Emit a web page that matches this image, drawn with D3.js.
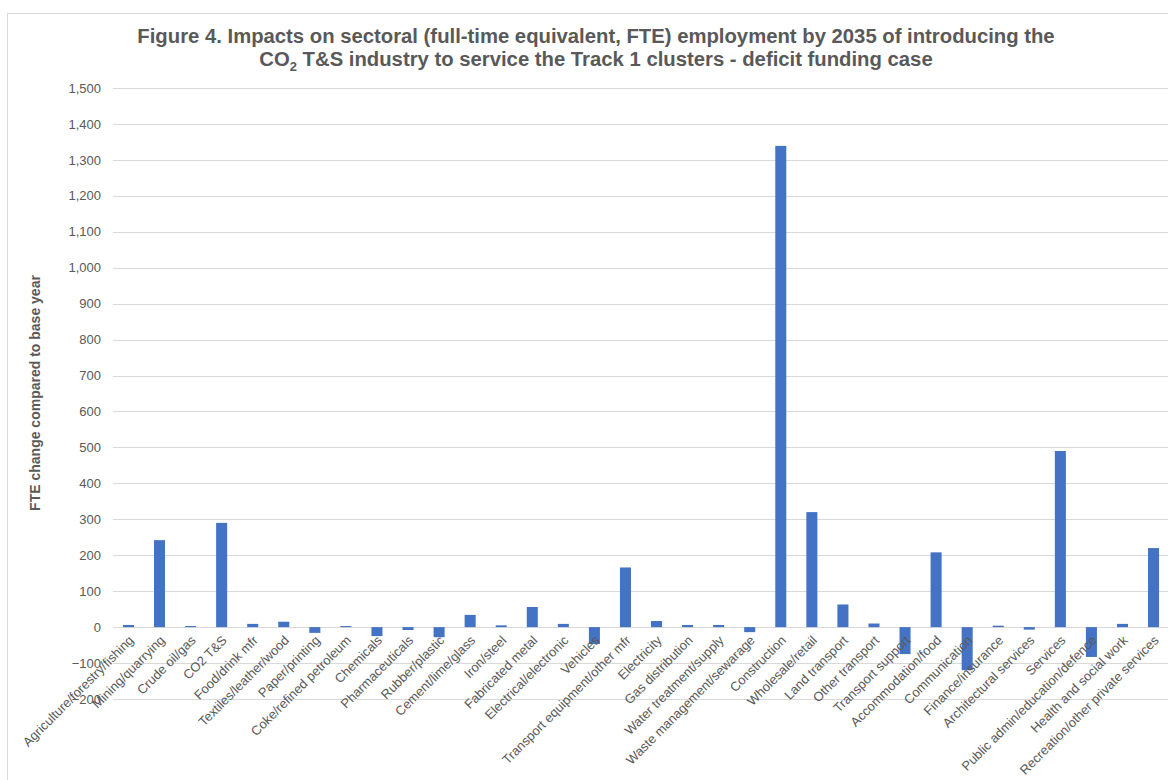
<!DOCTYPE html>
<html><head><meta charset="utf-8">
<script src="https://cdn.jsdelivr.net/npm/d3@7"></script>
<style>
body{margin:0;background:#fff;}
svg{display:block;font-family:"Liberation Sans",Arial,sans-serif;}
</style></head>
<body><svg id="c" width="1168" height="780"></svg>
<script>
const categories = ["Agriculture/forestry/fishing","Mining/quarrying","Crude oil/gas","CO2 T&S","Food/drink mfr","Textiles/leather/wood","Paper/printing","Coke/refined petroleum","Chemicals","Pharmaceuticals","Rubber/plastic","Cement/lime/glass","Iron/steel","Fabricated metal","Electrical/electronic","Vehicles","Transport equipment/other mfr","Electricity","Gas distribution","Water treatment/supply","Waste management/sewarage","Construction","Wholesale/retail","Land transport","Other transport","Transport support","Accommodation/food","Communication","Finance/insurance","Architectural services","Services","Public admin/education/defence","Health and social work","Recreation/other private services"];
const values = [6,242,3,290,9,15,-16,3,-25,-8,-28,34,5,56,9,-47,166,17,6,6,-14,1339,320,63,10,-75,208,-120,4,-7,490,-83,9,220];
const yTicks = [-200,-100,0,100,200,300,400,500,600,700,800,900,1000,1100,1200,1300,1400,1500];

const svg = d3.select("#c");
const pLeft = 113, pRight = 1169, pTop = 88, pBottom = 699;
const y = d3.scaleLinear().domain([-200,1500]).range([pBottom, pTop]);
const x = d3.scaleBand().domain(categories).range([pLeft, pRight]).paddingInner(0.645).paddingOuter(0.32);

// chart border
svg.append("rect").attr("x",7.5).attr("y",13.5).attr("width",1200).attr("height",800)
  .attr("fill","none").attr("stroke","#d9d9d9");

// title
const title = svg.append("text").attr("text-anchor","middle").attr("fill","#595959")
  .attr("font-weight","bold").attr("font-size",20.3);
title.append("tspan").attr("x",596).attr("y",43).text("Figure 4. Impacts on sectoral (full-time equivalent, FTE) employment by 2035 of introducing the");
const l2 = title.append("tspan").attr("x",596).attr("y",66);
l2.append("tspan").text("CO");
l2.append("tspan").attr("font-size",13).attr("dy",5).text("2");
l2.append("tspan").attr("dy",-5).text(" T&S industry to service the Track 1 clusters - deficit funding case");

// gridlines
svg.append("g").selectAll("line").data(yTicks).join("line")
  .attr("x1",pLeft).attr("x2",pRight)
  .attr("y1",d=>Math.round(y(d))+0.5).attr("y2",d=>Math.round(y(d))+0.5)
  .attr("stroke","#d9d9d9").attr("stroke-width",1);

// y axis labels
const yAxis = d3.axisLeft(y).tickValues(yTicks).tickSize(0).tickPadding(12).tickFormat(d3.format(","));
const ya = svg.append("g").attr("transform",`translate(${pLeft},0)`).call(yAxis);
ya.select(".domain").remove();
ya.selectAll("text").attr("fill","#595959").attr("font-size",13).attr("font-family","Liberation Sans, Arial, sans-serif");

// y title
svg.append("text").attr("transform",`translate(40,393) rotate(-90)`)
  .attr("text-anchor","middle").attr("font-weight","bold").attr("font-size",14).attr("fill","#595959")
  .text("FTE change compared to base year");

// bars
svg.append("g").selectAll("rect").data(values).join("rect")
  .attr("x",(d,i)=>x(categories[i])).attr("width",x.bandwidth())
  .attr("y",d=>y(Math.max(0,d))).attr("height",d=>Math.abs(y(d)-y(0)))
  .attr("fill","#4472C4");

// x labels
const xAxis = d3.axisBottom(x).tickSize(0).tickPadding(0);
const xa = svg.append("g").attr("transform",`translate(0,${y(0)})`).call(xAxis);
xa.select(".domain").remove();
xa.selectAll("text").attr("fill","#595959").attr("font-size",13)
  .attr("font-family","Liberation Sans, Arial, sans-serif")
  .attr("text-anchor","end").attr("dy",null).attr("y",0)
  .attr("transform","translate(6,14) rotate(-45)");
</script></body></html>
